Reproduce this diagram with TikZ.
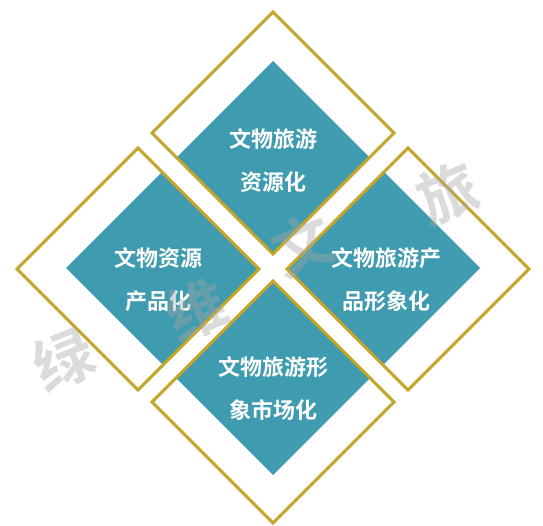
\documentclass[tikz,border=0pt]{standalone}
\usepackage{fontspec}
\newfontfamily\cjk{Noto Sans CJK SC}[BoldFont={Noto Sans CJK SC Bold}]
\definecolor{tealc}{HTML}{3F9BAF}
\definecolor{goldc}{HTML}{C4A62B}
\newcommand{\diapath}[3]{(#1,#2-#3) -- (#1+#3,#2) -- (#1,#2+#3) -- (#1-#3,#2) -- cycle}
\tikzset{
  outerline/.style={draw=goldc, line width=3pt, line join=miter},
  lbl/.style={text=white, font=\cjk\bfseries\fontsize{22}{43}\selectfont, align=center, inner sep=0pt},
  wm/.style={text=black!35, opacity=0.4, font=\cjk\bfseries\fontsize{60}{60}\selectfont, rotate=22, inner sep=0pt}
}
\begin{document}
\begin{tikzpicture}[x=1pt,y=-1pt]
\useasboundingbox[fill=white] (0,0) rectangle (543,526);
% four framed diamonds, each showing the part of the large teal diamond it covers
\foreach \cx/\cy in {273/133, 138/269, 408/269, 273/402}{
  \begin{scope}
    \clip \diapath{\cx}{\cy}{121};
    \fill[white] \diapath{\cx}{\cy}{121};
    \fill[tealc] \diapath{273}{268}{207};
  \end{scope}
  \path[outerline] \diapath{\cx}{\cy}{121};
}
% labels
\node[lbl] (top) at (273,161) {文物旅游\\资源化};
\node[lbl] (left) at (158,280) {文物资源\\产品化};
\node[lbl] (right) at (386,280) {文物旅游产\\品形象化};
\node[lbl] (bottom) at (273,389) {文物旅游形\\象市场化};
% watermark
\node[wm] (w1) at (64,360) {绿};
\node[wm] (w2) at (197,310) {维};
\node[wm] (w3) at (303,245) {文};
\node[wm] (w4) at (448,193) {旅};
\end{tikzpicture}
\end{document}
